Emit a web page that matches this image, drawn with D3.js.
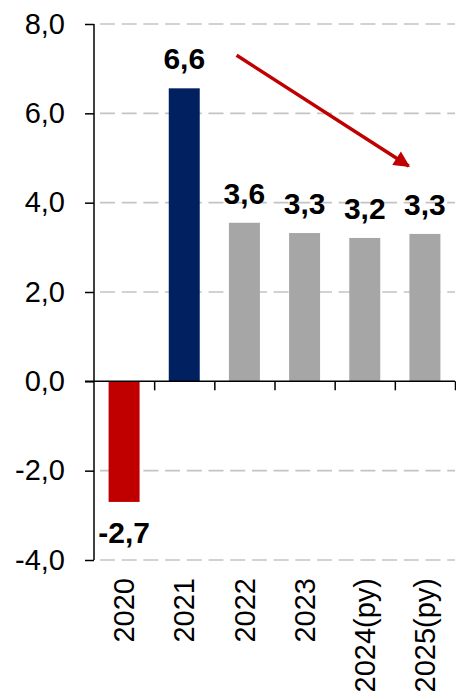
<!DOCTYPE html>
<html>
<head>
<meta charset="utf-8">
<script src="https://cdn.jsdelivr.net/npm/d3@7"></script>
<style>
  html, body { margin: 0; padding: 0; background: #fff; }
  svg { display: block; font-family: "Liberation Sans", Arial, sans-serif; }
</style>
</head>
<body>
<div id="chart"></div>
<script>
// Data
const years = ['2020', '2021', '2022', '2023', '2024(py)', '2025(py)'];
const growth = [-2.7, 6.56, 3.55, 3.32, 3.21, 3.30];
const valueLabels = ['-2,7', '6,6', '3,6', '3,3', '3,2', '3,3'];
const yTicks = [-4, -2, 0, 2, 4, 6, 8];
// trend arrow, in (category index, value) units
const arrowFrom = [2.37, 7.3];
const arrowTo = [5.23, 4.82];

const W = 456, H = 694;
const margin = { left: 94, right: 1, top: 24, bottom: 134 };

const red = '#c00000', navy = '#002060', grey = '#a6a6a6';
const barColor = (d, i) => i === 0 ? red : (i === 1 ? navy : grey);

const locale = d3.formatLocale({ decimal: ',', thousands: '.', grouping: [3], currency: ['', ''], minus: '-' });
const fmt = locale.format('.1f');

const svg = d3.select('#chart').append('svg').attr('width', W).attr('height', H);

const x = d3.scaleBand().domain(years)
    .range([margin.left, W - margin.right])
    .paddingInner(0.485).paddingOuter(0.2425);
const xi = d3.scaleLinear().domain([0, years.length]).range([margin.left, W - margin.right]);
const y = d3.scaleLinear().domain([-4, 8]).range([H - margin.bottom, margin.top]);

// Dashed gridlines
svg.append('g').attr('class', 'grid')
    .selectAll('line').data(yTicks.filter(t => t !== 0))
    .enter().append('line')
    .attr('x1', margin.left).attr('x2', W - margin.right)
    .attr('y1', d => y(d)).attr('y2', d => y(d))
    .attr('stroke', '#c4c4c4').attr('stroke-width', 1.6)
    .attr('stroke-dasharray', '15,6.7').attr('stroke-dashoffset', 15.7);

// Bars
svg.append('g').attr('class', 'bars')
    .selectAll('rect').data(growth)
    .enter().append('rect')
    .attr('x', (d, i) => x(years[i]))
    .attr('width', x.bandwidth())
    .attr('y', d => y(Math.max(0, d)))
    .attr('height', d => Math.abs(y(d) - y(0)))
    .attr('fill', barColor);

// Y axis
const yAxis = svg.append('g').attr('transform', 'translate(' + margin.left + ',0)')
    .call(d3.axisLeft(y).tickValues(yTicks).tickFormat(fmt).tickSize(9).tickPadding(20));
yAxis.select('.domain').attr('stroke', '#000').attr('stroke-width', 1.5)
    .attr('d', 'M0,' + y(-4) + 'V' + y(8));
yAxis.selectAll('.tick line').attr('stroke', '#000').attr('stroke-width', 1.5);
yAxis.selectAll('.tick text').attr('font-size', 29).attr('fill', '#000')
    .attr('font-family', '"Liberation Sans", Arial, sans-serif');

// X axis at zero, ticks on category boundaries
const xAxis = svg.append('g').attr('transform', 'translate(0,' + y(0) + ')')
    .call(d3.axisBottom(xi).tickValues(d3.range(1, years.length + 1)).tickSize(9).tickFormat(''));
xAxis.select('.domain').attr('stroke', '#000').attr('stroke-width', 1.5)
    .attr('d', 'M' + (margin.left - 9) + ',0H' + (W - margin.right));
xAxis.selectAll('.tick line').attr('stroke', '#000').attr('stroke-width', 1.5);

// Category labels, rotated
svg.append('g').attr('class', 'x-labels')
    .selectAll('text').data(years)
    .enter().append('text')
    .attr('transform', d => 'translate(' + (x(d) + x.bandwidth() / 2) + ',' + (y(-4) + 18) + ') rotate(-90)')
    .attr('text-anchor', 'end')
    .attr('dy', '0.35em')
    .attr('font-size', 29)
    .attr('fill', '#000')
    .text(d => d);

// Value labels
svg.append('g').attr('class', 'value-labels')
    .selectAll('text').data(growth)
    .enter().append('text')
    .attr('x', (d, i) => x(years[i]) + x.bandwidth() / 2)
    .attr('y', d => d >= 0 ? y(d) - 19 : y(d) + 41)
    .attr('text-anchor', 'middle')
    .attr('font-size', 30)
    .attr('font-weight', 'bold')
    .attr('fill', '#000')
    .text((d, i) => valueLabels[i]);

// Trend arrow
const defs = svg.append('defs');
defs.append('marker')
    .attr('id', 'head')
    .attr('viewBox', '0 0 10 10')
    .attr('refX', 9).attr('refY', 5)
    .attr('markerUnits', 'userSpaceOnUse')
    .attr('markerWidth', 19).attr('markerHeight', 16)
    .attr('orient', 'auto')
  .append('path')
    .attr('d', 'M0,0L10,5L0,10Z')
    .attr('fill', red);

svg.append('line')
    .attr('x1', xi(arrowFrom[0])).attr('y1', y(arrowFrom[1]))
    .attr('x2', xi(arrowTo[0])).attr('y2', y(arrowTo[1]))
    .attr('stroke', red).attr('stroke-width', 3.5)
    .attr('marker-end', 'url(#head)');
</script>
</body>
</html>
